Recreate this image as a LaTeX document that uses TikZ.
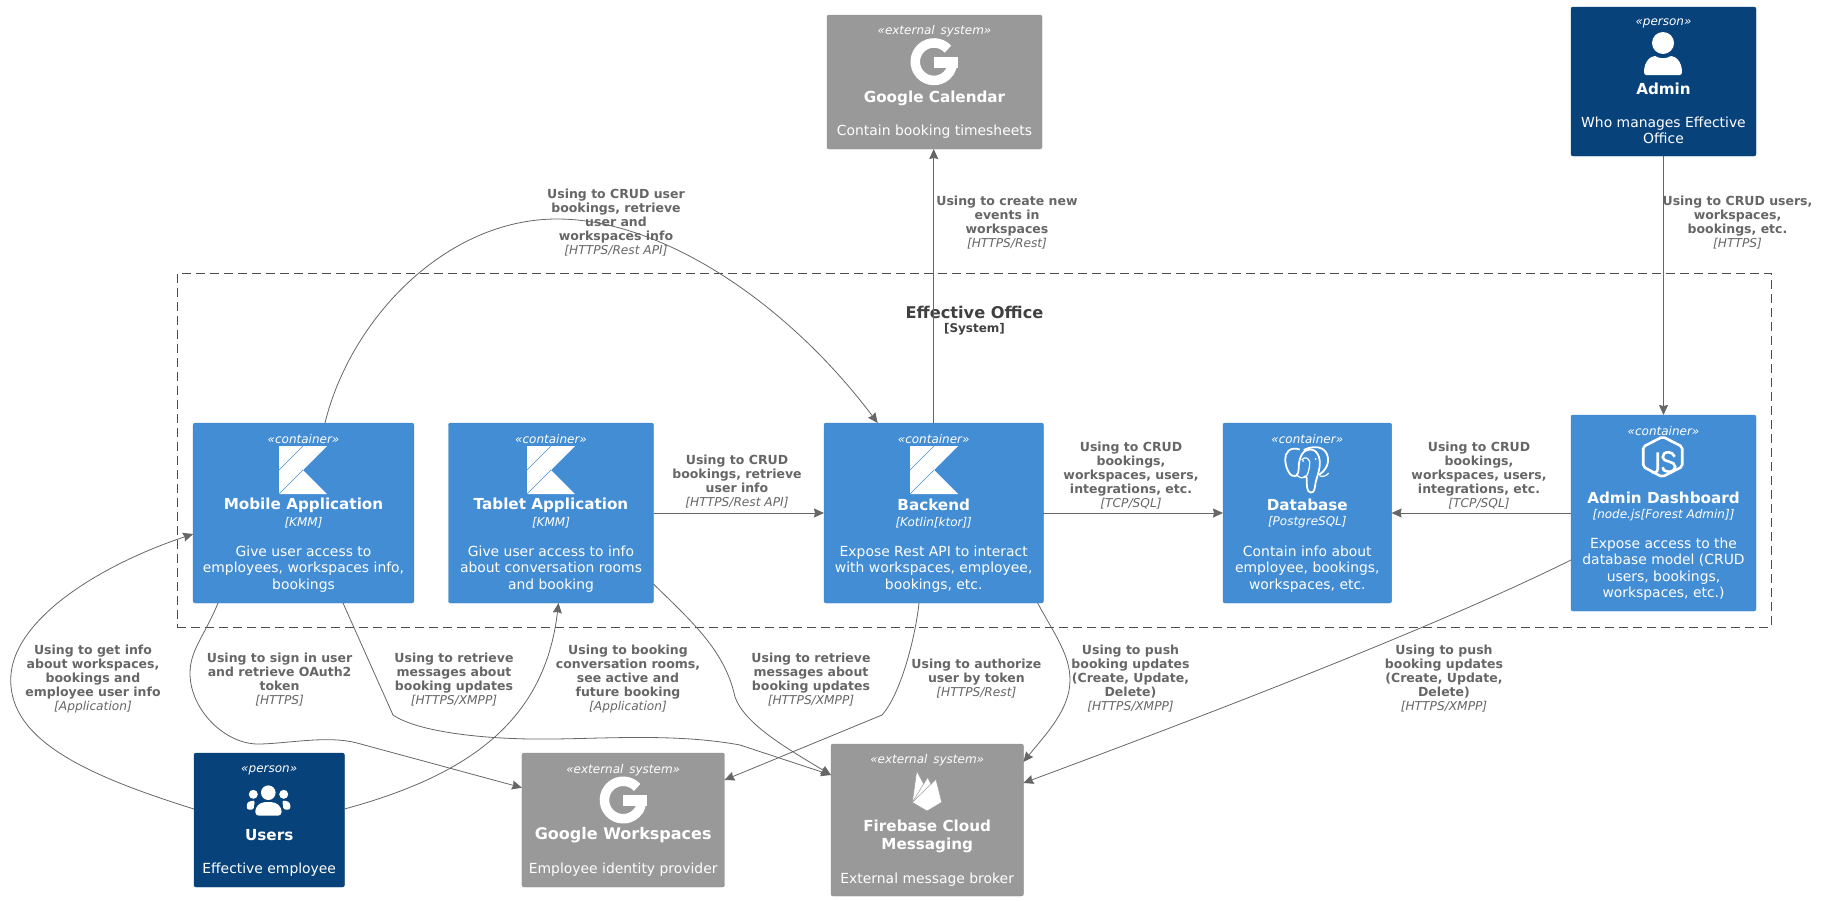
\documentclass[tikz,border=0pt]{standalone}
\usepackage{fontspec}
\setmainfont{DejaVu Sans}
\usetikzlibrary{arrows.meta}
\definecolor{containerblue}{HTML}{438DD5}
\definecolor{personblue}{HTML}{08427B}
\definecolor{externalgray}{HTML}{999999}
\definecolor{relgray}{HTML}{666666}
\newcommand{\proto}[1]{{\mdseries\itshape\fontsize{12.2}{14}\selectfont [#1]}}
\tikzset{
  x=1pt, y=-1pt,
  boxbase/.style={rectangle, rounded corners=2pt, outer sep=0pt, inner sep=0pt},
  containerbox/.style={boxbase, fill=containerblue, draw=containerblue!92!black},
  personbox/.style={boxbase, fill=personblue, draw=personblue!92!black},
  externalbox/.style={boxbase, fill=externalgray, draw=externalgray!92!black},
  office/.style={rectangle, draw=black!70, dash pattern=on 9pt off 5pt, line width=0.7pt, outer sep=0pt, inner sep=0pt},
  stereo/.style={text=white, yshift=0.5pt, font=\fontsize{12}{14}\selectfont\itshape},
  title/.style={text=white, align=center, yshift=-1pt, font=\fontsize{15.2}{18.5}\selectfont\bfseries},
  tech/.style={text=white, yshift=-2.5pt, font=\fontsize{12}{14}\selectfont\itshape},
  descr/.style={text=white, align=center, font=\fontsize{13.9}{16.2}\selectfont},
  rel/.style={draw=relgray, line width=0.8pt, -{Stealth[length=10pt,width=9pt,inset=1pt]}, fill=none},
  rellabel/.style={text=relgray, align=center, yshift=-1pt, font=\fontsize{12.5}{14}\selectfont\bfseries},
  kotlinicon/.pic={
    \fill[white] (0,0) -- (48,0) -- (24,24) -- (48,48) -- (0,48) -- cycle;
    \draw[containerblue, line width=0.6pt] (24,0) -- (0,24);
    \draw[containerblue, line width=0.6pt] (24,24) -- (0,48);
  },
  googleicon/.pic={
    \draw[white, line width=9.5pt] (-42:18.75) arc[start angle=-42, end angle=-345, radius=18.75];
    \fill[white] (0,-5) rectangle (23.5,6);
  },
  personicon/.pic={
    \fill[white] (0,11) circle[radius=11];
    \fill[white] (-19,40) .. controls (-19,29) and (-12,24) .. (-8,24) .. controls (-3,27) and (3,27) .. (8,24)
      .. controls (12,24) and (19,29) .. (19,40) .. controls (19,42) and (18,43) .. (17,43) -- (-17,43)
      .. controls (-18,43) and (-19,42) .. (-19,40) -- cycle;
  },
  usersicon/.pic={
    \fill[white] (0,0) circle[radius=7.3];
    \fill[white] (-15,1.6) circle[radius=4.5];
    \fill[white] (15.4,1.6) circle[radius=4.5];
    \fill[white, rounded corners=3.5pt] (-13,23) -- (-13,15) -- (-7,9.5) -- (7,9.5) -- (13.2,15) -- (13.2,23) -- cycle;
    \fill[white, rounded corners=2.5pt] (-21.5,17) -- (-21.5,10) -- (-17,8) -- (-13,8) -- (-14.5,13) -- (-14.5,17) -- cycle;
    \fill[white, rounded corners=2.5pt] (22,17) -- (22,10) -- (17.5,8) -- (13.5,8) -- (15,13) -- (15,17) -- cycle;
  },
  firebaseicon/.pic={
    \filldraw[fill=white, draw=externalgray, line width=0.5pt] (-14.7,2.3) -- (-10.3,-29) -- (-2.7,-15) -- cycle;
    \filldraw[fill=white, draw=externalgray, line width=0.5pt] (-14.7,2.3) -- (0.7,-22.7) -- (5.7,-12.3) -- cycle;
    \filldraw[fill=white, draw=externalgray, line width=0.5pt] (-14.7,2.3) -- (9,-20.7) -- (14.7,2.3) -- (0,11) -- cycle;
  },
  nodejsicon/.pic={
    \draw[white, line width=2.6pt, rounded corners=2pt] (-3,19) -- (-19.5,10) -- (-19.5,-10) -- (0,-20) -- (19.5,-10) -- (19.5,10) -- (0,20) -- (-3,19);
    \draw[white, line width=2.6pt] (-5,-4.3) -- (-5,12) .. controls (-5,16) and (-9,17) .. (-11,15);
    \draw[white, line width=2.6pt] (12,0) .. controls (11,-3) and (8,-4.5) .. (6,-4.5) .. controls (2,-4.5) and (0,-2.5) .. (0,0.5)
      .. controls (0,6) and (12.5,3.5) .. (12.5,10) .. controls (12.5,13) and (10,15) .. (6,15) .. controls (3,15) and (0.5,14) .. (0,10.5);
  },
  elephanticon/.pic={
    \draw[white, line width=1.8pt] (-7,-20.5) .. controls (-17,-24) and (-22,-17) .. (-21.5,-10) .. controls (-21,-1) and (-16,8) .. (-11,6) .. controls (-9,5) and (-8,2) .. (-8,-2)
      .. controls (-8,-12) and (-4,-20.5) .. (3,-20.5) .. controls (10,-21) and (14,-13) .. (13,-4) .. controls (12,3) and (10,8) .. (9,12)
      .. controls (8,18) and (8,23) .. (4,22.5) .. controls (0,22) and (0,16) .. (0,8) .. controls (0,6) and (-2,6) .. (-3,7);
    \draw[white, line width=1.8pt] (-3,-20) .. controls (3,-23) and (10,-24) .. (15,-21.5) .. controls (22,-18) and (23,-8) .. (19,-2) .. controls (16,3) and (14,3) .. (12,5);
    \draw[white, line width=1.2pt] (-5,-10) .. controls (-2,-14) and (2,-12) .. (3,-8) .. controls (3,-3) and (2,2) .. (0,6);
    \draw[white, line width=1.2pt] (13,6) .. controls (16,7) and (20,6) .. (22,3);
    \draw[white, line width=1.2pt] (-10,5) .. controls (-7,8) and (-4,9) .. (-1,6);
    \fill[white] (-3.5,-9) circle[radius=1];
    \fill[white] (9,-11) circle[radius=1];
  }
}
\begin{document}
\begin{tikzpicture}
\useasboundingbox (0,0) rectangle (1821,900);
% boundary
\node[office, minimum width=1593.6pt, minimum height=354pt] (officeframe) at (974.2,450) {};
\node[text=black!75, font=\fontsize{16.2}{18}\selectfont\bfseries] (officetitle) at (974.5,312) {Effective Office};
\node[text=black!75, font=\fontsize{12}{14}\selectfont\bfseries] (officekind) at (974.5,329) {[System]};
% boxes
\node[externalbox, minimum width=215pt, minimum height=134pt] (calendar) at (934.5,82) {};
\node[personbox, minimum width=185pt, minimum height=149pt] (admin) at (1663.5,81.5) {};
\node[containerbox, minimum width=220.7pt, minimum height=180pt] (mobile) at (303.5,513) {};
\node[containerbox, minimum width=205pt, minimum height=180pt] (tablet) at (551,513) {};
\node[containerbox, minimum width=219.4pt, minimum height=180pt] (backend) at (933.7,513) {};
\node[containerbox, minimum width=168.6pt, minimum height=180pt] (database) at (1307.3,513) {};
\node[containerbox, minimum width=185pt, minimum height=196pt] (dashboard) at (1663.5,513) {};
\node[personbox, minimum width=150.4pt, minimum height=134pt] (users) at (269.2,820) {};
\node[externalbox, minimum width=202.5pt, minimum height=134pt] (workspaces) at (623.2,820) {};
\node[externalbox, minimum width=192.4pt, minimum height=152pt] (firebase) at (927.2,820) {};
% connectors
\draw[rel] (backend.north) -- (backend.north |- calendar.south);
\draw[rel] (admin.south) -- (dashboard.north);
\draw[rel] (tablet.east) -- (backend.west);
\draw[rel] (backend.east) -- (database.west);
\draw[rel] (dashboard.west) -- (database.east);
\draw[rel] ([xshift=21.5pt]mobile.north) .. controls (350,320) and (445,219) .. (557,219) .. controls (660,219) and (785,300) .. ([xshift=-56pt]backend.north);
\draw[rel] ([yshift=11pt]users.west) .. controls (85,775) and (10.7,740) .. (10.7,680) .. controls (10.7,620) and (100,565) .. ([yshift=-21pt]mobile.west);
\draw[rel] ([yshift=11pt]users.east) .. controls (470,775) and (545,720) .. ([xshift=7.5pt]tablet.south);
\draw[rel] ([xshift=-85.5pt]mobile.south) .. controls (205,635) and (190,650) .. (190,673) .. controls (190,710) and (225,744) .. (258,744) .. controls (285,744) and (327,735) .. (357,743) -- ([yshift=32.3pt]workspaces.west);
\draw[rel] ([xshift=39.5pt]mobile.south) -- (393,715) .. controls (415,730) and (470,738) .. (530,739) .. controls (590,740) and (670,732) .. (740,745) -- ([yshift=45pt]firebase.west);
\draw[rel] ([yshift=-71pt]tablet.east) .. controls (690,620) and (725,650) .. (735,697) .. controls (745,725) and (790,750) .. ([yshift=45pt]firebase.west);
\draw[rel] ([xshift=-14.7pt]backend.south) .. controls (915,640) and (900,695) .. (882,715) -- ([yshift=40pt]workspaces.east);
\draw[rel] ([xshift=103.9pt]backend.south) .. controls (1055,635) and (1070,655) .. (1070,680) .. controls (1070,710) and (1045,735) .. ([yshift=58pt]firebase.east);
\draw[rel] ([yshift=-47pt]dashboard.west) .. controls (1440,625) and (1220,710) .. ([yshift=37pt]firebase.east);
% icons
\pic at (934,61.7) {googleicon};
\pic at (1663,32) {personicon};
\pic at (279,446) {kotlinicon};
\pic at (527,446) {kotlinicon};
\pic at (910,446) {kotlinicon};
\pic at (1306.7,470) {elephanticon};
\pic at (1662.7,456.7) {nodejsicon};
\pic at (268.3,792.7) {usersicon};
\pic at (623.2,800) {googleicon};
\pic at (927,800) {firebaseicon};
% box texts
\node[stereo] (calendarkind) at (934.5,32) {«external\, system»};
\node[title] (calendarname) at (934.5,97) {Google Calendar};
\node[descr] (calendardesc) at (934.5,131.8) {Contain booking timesheets};
\node[stereo] (adminkind) at (1663.5,24) {«person»};
\node[title] (adminname) at (1663.5,88) {Admin};
\node[descr] (admindesc) at (1663.5,130) {Who manages Effective\\Office};
\node[stereo] (mobilekind) at (303.5,440) {«container»};
\node[title] (mobilename) at (303.5,504) {Mobile Application};
\node[tech] (mobiletech) at (303.5,520) {[KMM]};
\node[descr] (mobiledesc) at (303.5,569) {Give user access to\\employees, workspaces info,\\bookings};
\node[stereo] (tabletkind) at (551,440) {«container»};
\node[title] (tabletname) at (551,504) {Tablet Application};
\node[tech] (tablettech) at (551,520) {[KMM]};
\node[descr] (tabletdesc) at (551,569) {Give user access to info\\about conversation rooms\\and booking};
\node[stereo] (backendkind) at (933.7,440) {«container»};
\node[title] (backendname) at (933.7,504) {Backend};
\node[tech] (backendtech) at (933.7,520) {[Kotlin[ktor]]};
\node[descr] (backenddesc) at (933.7,569) {Expose Rest API to interact\\with workspaces, employee,\\bookings, etc.};
\node[stereo] (databasekind) at (1307.3,440) {«container»};
\node[title] (databasename) at (1307.3,504) {Database};
\node[tech] (databasetech) at (1307.3,520) {[PostgreSQL]};
\node[descr] (databasedesc) at (1307.3,569) {Contain info about\\employee, bookings,\\workspaces, etc.};
\node[stereo] (dashboardkind) at (1663.5,432) {«container»};
\node[title] (dashboardname) at (1663.5,497) {Admin Dashboard};
\node[tech] (dashboardtech) at (1663.5,513) {[node.js[Forest Admin]]};
\node[descr] (dashboarddesc) at (1663.5,569.2) {Expose access to the\\database model (CRUD\\users, bookings,\\workspaces, etc.)};
\node[stereo] (userskind) at (269.2,771) {«person»};
\node[title] (usersname) at (269.2,834) {Users};
\node[descr] (usersdesc) at (269.2,869.8) {Effective employee};
\node[stereo] (workspaceskind) at (623.2,771) {«external\, system»};
\node[title, font=\fontsize{16}{18.5}\selectfont\bfseries] (workspacesname) at (623.2,834) {Google Workspaces};
\node[descr] (workspacesdesc) at (623.2,869.8) {Employee identity provider};
\node[stereo] (firebasekind) at (927.2,761) {«external\, system»};
\node[title] (firebasename) at (927.2,835.5) {Firebase Cloud\\Messaging};
\node[descr] (firebasedesc) at (927.2,879.8) {External message broker};
% connector labels
\node[rellabel] (lblcrudmobile) at (616,221.5) {Using to CRUD user\\bookings, retrieve\\user and\\workspaces info\\\proto{HTTPS/Rest API}};
\node[rellabel] (lblcreate) at (1007,221.7) {Using to create new\\events in\\workspaces\\\proto{HTTPS/Rest}};
\node[rellabel] (lblcrudadmin) at (1737.5,221.7) {Using to CRUD users,\\workspaces,\\bookings, etc.\\\proto{HTTPS}};
\node[rellabel] (lblcrudtablet) at (737,481) {Using to CRUD\\bookings, retrieve\\user info\\\proto{HTTPS/Rest API}};
\node[rellabel] (lblsqlbackend) at (1131,474.7) {Using to CRUD\\bookings,\\workspaces, users,\\integrations, etc.\\\proto{TCP/SQL}};
\node[rellabel] (lblsqladmin) at (1479,474.7) {Using to CRUD\\bookings,\\workspaces, users,\\integrations, etc.\\\proto{TCP/SQL}};
\node[rellabel] (lblgetinfo) at (93,678) {Using to get info\\about workspaces,\\bookings and\\employee user info\\\proto{Application}};
\node[rellabel] (lblsignin) at (279.6,678.5) {Using to sign in user\\and retrieve OAuth2\\token\\\proto{HTTPS}};
\node[rellabel] (lblretrievemobile) at (454,678.5) {Using to retrieve\\messages about\\booking updates\\\proto{HTTPS/XMPP}};
\node[rellabel] (lblbooking) at (628,678) {Using to booking\\conversation rooms,\\see active and\\future booking\\\proto{Application}};
\node[rellabel] (lblretrievetablet) at (811,678.5) {Using to retrieve\\messages about\\booking updates\\\proto{HTTPS/XMPP}};
\node[rellabel] (lblauthorize) at (976.4,678) {Using to authorize\\user by token\\\proto{HTTPS/Rest}};
\node[rellabel] (lblpushbackend) at (1130.5,678) {Using to push\\booking updates\\(Create, Update,\\Delete)\\\proto{HTTPS/XMPP}};
\node[rellabel] (lblpushadmin) at (1444,678) {Using to push\\booking updates\\(Create, Update,\\Delete)\\\proto{HTTPS/XMPP}};
\end{tikzpicture}
\end{document}
